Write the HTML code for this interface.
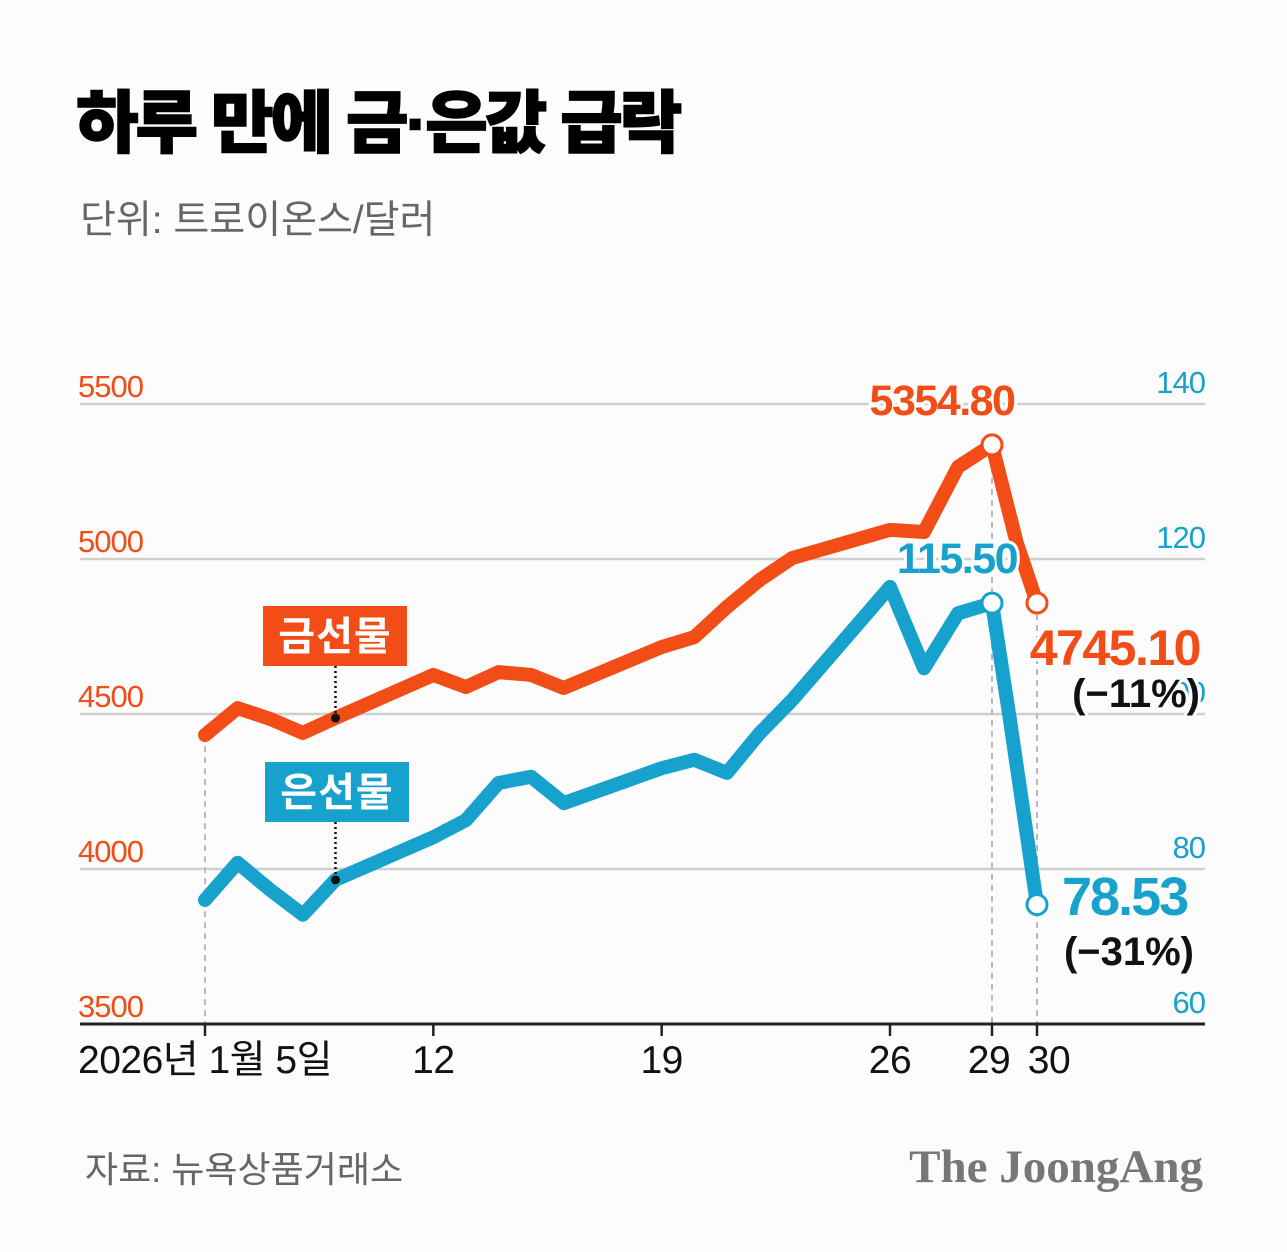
<!DOCTYPE html>
<html><head><meta charset="utf-8"><style>
html,body{margin:0;padding:0;background:#fcfcfc;}
svg{display:block;}
text{font-family:"Liberation Sans","Noto Sans CJK KR",sans-serif;}
</style></head><body>
<svg id="chart" width="1287" height="1252" viewBox="0 0 1287 1252" xmlns="http://www.w3.org/2000/svg">
<rect x="0" y="0" width="1287" height="1252" fill="#fcfcfc"/>
<text x="76" y="147" font-size="68" font-weight="900" fill="#000" letter-spacing="-3" stroke="#000" stroke-width="1.5">하루 만에 금·은값 급락</text>
<text x="80" y="233" font-size="39" fill="#666" letter-spacing="0">단위: 트로이온스/달러</text>
<g id="grid"></g>
<g id="axes"></g>
<g id="series"></g>
<g id="annot"></g>
<text x="85" y="1182" font-size="36" fill="#666" letter-spacing="0">자료: 뉴욕상품거래소</text>
<text x="1203" y="1182" text-anchor="end" font-size="47" font-weight="bold" fill="#777" style="font-family:'Liberation Serif',serif" letter-spacing="0">The JoongAng</text>
</svg>
<script>
const goldDays = [5,6,7,8,9,12,13,14,15,16,19,20,21,22,23,26,27,28,29,29.55,30];
const goldValues = [4432,4519,4484,4439,4487,4626,4587,4635,4626,4584,4716,4748,4845,4932,5003,5094,5087,5297,5368,5052,4858];
const silverDays = [5,6,7,8,9,12,13,14,15,16,19,20,21,22,23,26,27,28,29,29.4,30];
const silverValues = [76.0,80.8,77.3,74.1,78.6,84.1,86.3,91.1,91.9,88.5,93.0,94.1,92.4,97.5,101.8,116.4,105.9,113.0,114.3,99.2,75.4];
const leftTicks = [3500,4000,4500,5000,5500];
const rightTicks = [60,80,100,120,140];
const xTickDays = [5,12,19,26,29,30];
const xTickLabels = ["2026년 1월 5일","12","19","26","29","30"];
const goldPeakLabel = "5354.80", goldLastLabel = "4745.10", goldChange = "(−11%)";
const silverPeakLabel = "115.50", silverLastLabel = "78.53", silverChange = "(−31%)";

const NS = "http://www.w3.org/2000/svg";
const ORANGE = "#f24c17", BLUE = "#17a2cd";
const yTop = 404, yBot = 1024;
function yL(v){ return yBot - (v-3500)/2000*(yBot-yTop); }
function yR(v){ return yBot - (v-60)/80*(yBot-yTop); }
const xDom = [5,26,29,30], xRng = [205,890,992,1037];
function x(d){
  for(let i=0;i<xDom.length-1;i++){
    if(d<=xDom[i+1]||i===xDom.length-2){
      return xRng[i]+(d-xDom[i])/(xDom[i+1]-xDom[i])*(xRng[i+1]-xRng[i]);
    }
  }
}
function mk(tag, attrs, parent, txt){
  const e = document.createElementNS(NS, tag);
  for(const k in attrs) e.setAttribute(k, attrs[k]);
  if(txt!==undefined) e.textContent = txt;
  document.getElementById(parent).appendChild(e);
  return e;
}
leftTicks.forEach((t,i)=>{
  const y = yL(t);
  if(i>0){
    const l = mk('line',{x1:80,x2:1205,y1:y,y2:y,stroke:'#cfcfcf','stroke-width':2.5},'grid');
    
    
  }
  const tx = mk('text',{x:78,y:y-7,'font-size':31,fill:ORANGE,'letter-spacing':-1},'axes',String(t));
  
  
});
rightTicks.forEach(t=>{
  const tx = mk('text',{x:1205,y:yR(t)-11,'font-size':31,fill:BLUE,'text-anchor':'end','letter-spacing':-1},'axes',String(t));
  
  
});
const ax = mk('line',{x1:80,x2:1205,y1:yBot,y2:yBot,stroke:'#222','stroke-width':3},'axes');


xTickDays.forEach((d,i)=>{
  const tk = mk('line',{x1:x(d),x2:x(d),y1:yBot,y2:yBot+12,stroke:'#222','stroke-width':2.5},'axes');
  
  
  const anchor = i===0 ? 'start' : 'middle';
  const xx = i===0 ? 78 : (d===29 ? x(d)-3 : (d===30 ? x(d)+12 : x(d)));
  const tl = mk('text',{x:xx,y:1073,'font-size':39,fill:'#111','text-anchor':anchor,'letter-spacing':-0.5},'axes',xTickLabels[i]);
  
  
});
const gLast = goldValues.length-1, sLast = silverValues.length-1;
const peakIdx = goldDays.indexOf(29), sPeakIdx = silverDays.indexOf(29);
[[x(goldDays[0]), yL(goldValues[0])],[x(29), yL(goldValues[peakIdx])],[x(30), yL(goldValues[gLast])]].forEach(p=>{
  const dl = mk('line',{x1:p[0],x2:p[0],y1:p[1],y2:yBot,stroke:'#bbb','stroke-width':2,'stroke-dasharray':'6 5'},'grid');
  
  
});
function pts(days, vals, yf){ return days.map((d,i)=>x(d)+','+yf(vals[i])).join(' '); }
const gl = mk('polyline',{points:pts(goldDays,goldValues,yL),fill:'none',stroke:ORANGE,'stroke-width':14,'stroke-linejoin':'round','stroke-linecap':'round'},'series');


const sl = mk('polyline',{points:pts(silverDays,silverValues,yR),fill:'none',stroke:BLUE,'stroke-width':14,'stroke-linejoin':'round','stroke-linecap':'round'},'series');


[[x(29),yL(goldValues[peakIdx]),ORANGE,'gold-peak-marker'],[x(30),yL(goldValues[gLast]),ORANGE,'gold-last-marker'],
 [x(29),yR(silverValues[sPeakIdx]),BLUE,'silver-peak-marker'],[x(30),yR(silverValues[sLast]),BLUE,'silver-last-marker']].forEach(m=>{
  const c = mk('circle',{cx:m[0],cy:m[1],r:10,fill:'#fff',stroke:m[2],'stroke-width':3},'series');
  
  
});
function legend(label,color,bx,by,lx,ly,name){
  const r = mk('rect',{x:bx,y:by,width:144,height:60,fill:color},'annot');
  
  
  const t = mk('text',{x:bx+72,y:by+44,'font-size':40,'font-weight':'bold',fill:'#fff','text-anchor':'middle','letter-spacing':1},'annot',label);
  
  
  const d = mk('line',{x1:lx,x2:lx,y1:by+60,y2:ly,stroke:'#111','stroke-width':2.5,'stroke-dasharray':'2 3'},'annot');
  
  
  const c = mk('circle',{cx:lx,cy:ly,r:4.5,fill:'#111'},'annot');
  
  
}
legend('금선물',ORANGE,263,606,x(9),yL(goldValues[goldDays.indexOf(9)]),'gold-legend');
legend('은선물',BLUE,265,762,x(9),yR(silverValues[silverDays.indexOf(9)]),'silver-legend');
function lab(txt,xx,yy,fs,col,anchor,name,ls){
  const t = mk('text',{x:xx,y:yy,'font-size':fs,'font-weight':'bold',fill:col,'text-anchor':anchor,'letter-spacing':ls,stroke:'#fcfcfc','stroke-width':6,'paint-order':'stroke'},'annot',txt);
  
  
}
lab(goldPeakLabel,942,415,43,ORANGE,'middle','gold-peak-label',-1.5);
lab(silverPeakLabel,957,573,43,BLUE,'middle','silver-peak-label',-1.5);
lab(goldLastLabel,1200,665,50,ORANGE,'end','gold-last-label',-1.5);
lab(goldChange,1200,707,40,'#111','end','gold-change-label',0);
lab(silverLastLabel,1062,915,54,BLUE,'start','silver-last-label',-2);
lab(silverChange,1194,965,40,'#111','end','silver-change-label',0);
</script>
</body></html>
